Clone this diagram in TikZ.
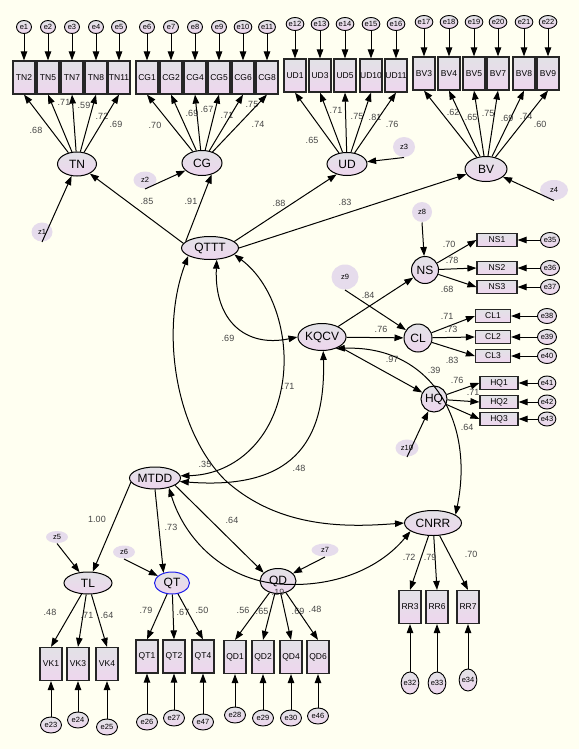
\documentclass[tikz,border=0pt]{standalone}
\usepackage{fontspec}
\setmainfont{Liberation Sans}
\usetikzlibrary{shapes.geometric,arrows.meta}

\definecolor{bgcol}{RGB}{255,255,241}
\definecolor{nodetop}{RGB}{226,226,230}
\definecolor{nodebot}{RGB}{238,214,238}
\definecolor{zcol}{RGB}{230,220,236}
\definecolor{wtcol}{RGB}{70,70,70}
\definecolor{qtblue}{RGB}{30,30,235}

\tikzset{
    lat/.style={ellipse, draw, line width=1pt, top color=nodetop, bottom color=nodebot,
        inner sep=0pt, font=\fontsize{12}{13}\selectfont},
    latc/.style={lat, circle},
    ind/.style={rectangle, draw=black!85, line width=1.2pt, top color=nodetop, bottom color=nodebot,
        minimum width=22pt, minimum height=33pt, inner sep=0pt, font=\fontsize{8.5}{9}\selectfont},
    indh/.style={ind, minimum height=13pt},
    err/.style={ellipse, draw, line width=0.9pt, top color=nodetop, bottom color=nodebot,
        minimum width=15pt, minimum height=13pt, inner sep=0pt, font=\fontsize{7.5}{8}\selectfont},
    errh/.style={err, minimum width=19pt, minimum height=15pt},
    errb/.style={err, minimum width=21pt, minimum height=16pt},
    errv/.style={err, minimum width=17pt, minimum height=22pt},
    dist/.style={ellipse, fill=zcol, inner sep=0pt, font=\fontsize{7.5}{8}\selectfont},
    wt/.style={inner sep=0pt, text=wtcol, font=\fontsize{9}{10}\selectfont},
}

\begin{document}
\begin{tikzpicture}[>={Triangle[length=9pt,width=6.5pt]}, x=1pt, y=-1pt, line width=1pt]
    \useasboundingbox (0,0) rectangle (579,749);
    \fill[bgcol] (0,0) rectangle (579,749);

    % Latent variables
    \node[lat, minimum width=39pt, minimum height=24pt] (TN) at (77,164) {TN};
    \node[lat, minimum width=40pt, minimum height=25pt] (CG) at (202,163) {CG};
    \node[lat, minimum width=40pt, minimum height=23pt] (UD) at (347,164) {UD};
    \node[lat, minimum width=42pt, minimum height=25pt] (BV) at (486,169) {BV};
    \node[lat, minimum width=57pt, minimum height=23pt] (QTTT) at (210,248) {QTTT};
    \node[lat, minimum width=42pt, minimum height=27pt] (KQCV) at (322,337) {KQCV};
    \node[latc, minimum size=27pt] (NS) at (425,270) {NS};
    \node[latc, minimum size=28pt] (CL) at (418,338) {CL};
    \node[latc, minimum size=26pt] (HQ) at (434,399) {HQ};
    \node[lat, minimum width=51pt, minimum height=22pt] (MTDD) at (155,478) {MTDD};
    \node[lat, minimum width=48pt, minimum height=22pt] (TL) at (88,583) {TL};
    \node[lat, draw=qtblue, minimum width=35pt, minimum height=22pt] (QT) at (172,583) {QT};
    \node[lat, minimum width=36pt, minimum height=25pt] (QD) at (278,581) {QD};
    \node[lat, minimum width=57pt, minimum height=25pt] (CNRR) at (433,523) {CNRR};

    % Disturbances
    \node[dist, minimum width=21pt, minimum height=19pt] (z1) at (42,232) {z1};
    \node[dist, minimum width=23pt, minimum height=17pt] (z2) at (145,180) {z2};
    \node[dist, minimum width=22pt, minimum height=20pt] (z3) at (404,147) {z3};
    \node[dist, minimum width=28pt, minimum height=20pt] (z4) at (554,190) {z4};
    \node[dist, minimum width=22pt, minimum height=12pt] (z5) at (57,537) {z5};
    \node[dist, minimum width=22pt, minimum height=13pt] (z6) at (124,552) {z6};
    \node[dist, minimum width=27pt, minimum height=13pt] (z7) at (325,550) {z7};
    \node[dist, minimum width=20pt, minimum height=20pt] (z8) at (422,212) {z8};
    \node[dist, minimum width=27pt, minimum height=25pt] (z9) at (345,277) {z9};
    \node[dist, minimum width=23pt, minimum height=17pt] (z10) at (407,448) {z10};
    \foreach \z/\f in {z1/TN, z2/CG, z3/UD, z4/BV, z5/TL, z6/QT, z7/QD, z8/NS, z9/CL, z10/HQ}
        \draw[->] (\z.south) -- (\f);

    % Top indicator blocks
    \foreach \ind/\x/\err/\w/\lx/\ly in {TN2/24/e1/.68/36/130, TN5/48/e2/.71/64/102,
        TN7/72/e3/.59/84/105, TN8/96/e4/.72/102/116, TN11/119/e5/.69/116/124} {
        \node[ind] (\ind) at (\x,77.5) {\ind};
        \node[err] (\err) at (\x,27) {\err};
        \draw[->] (\err) -- (\ind);
        \draw[->] (TN) -- (\ind.south);
        \node[wt] (w\ind) at (\lx,\ly) {\w};
    }
    \foreach \ind/\x/\err/\w/\lx/\ly in {CG1/147/e6/.70/155/125, CG2/171/e7/.69/192/113,
        CG4/195/e8/.67/207/109, CG5/219/e9/.71/227/115, CG6/243/e10/.75/252/104,
        CG8/267/e11/.74/258/124} {
        \node[ind] (\ind) at (\x,77.5) {\ind};
        \node[err] (\err) at (\x,27) {\err};
        \draw[->] (\err) -- (\ind);
        \draw[->] (CG) -- (\ind.south);
        \node[wt] (w\ind) at (\lx,\ly) {\w};
    }
    \foreach \ind/\x/\err/\w/\lx/\ly in {UD1/295/e12/.65/312/140, UD3/320/e13/.71/336/110,
        UD5/345/e14/.75/357/116, UD10/371/e15/.81/375/117, UD11/396/e16/.76/392/124} {
        \node[ind] (\ind) at (\x,75.5) {\ind};
        \node[err] (\err) at (\x,24) {\err};
        \draw[->] (\err) -- (\ind);
        \draw[->] (UD) -- (\ind.south);
        \node[wt] (w\ind) at (\lx,\ly) {\w};
    }
    \foreach \ind/\x/\err/\w/\lx/\ly in {BV3/424/e17/.62/453/112, BV4/449/e18/.65/471/117,
        BV5/474/e19/.75/488/113, BV7/498/e20/.69/507/118, BV8/524/e21/.74/526/116,
        BV9/548/e22/.60/540/124} {
        \node[ind] (\ind) at (\x,73.5) {\ind};
        \node[err] (\err) at (\x,22) {\err};
        \draw[->] (\err) -- (\ind);
        \draw[->] (BV) -- (\ind.south);
        \node[wt] (w\ind) at (\lx,\ly) {\w};
    }

    % Second order paths
    \draw[->] (QTTT.170) -- (TN);
    \draw[->] (QTTT.165) -- (CG.-50);
    \draw[->] (QTTT.15) -- (UD.-135);
    \draw[->] (QTTT.0) -- (BV.195);
    \node[wt] (wTN) at (147,201) {.85};
    \node[wt] (wCG) at (191,201) {.91};
    \node[wt] (wUD) at (279,203) {.88};
    \node[wt] (wBV) at (345,202) {.83};

    % Right indicator blocks
    \foreach \ind/\y/\err/\w/\lx/\ly in {NS1/240/e35/.70/449/244, NS2/268/e36/.78/452/260,
        NS3/287/e37/.68/447/289} {
        \node[indh, minimum width=40pt] (\ind) at (497,\y) {\ind};
        \node[errh] (\err) at (550,\y) {\err};
        \draw[->] (\err) -- (\ind);
        \draw[->] (NS) -- (\ind.west);
        \node[wt] (w\ind) at (\lx,\ly) {\w};
    }
    \foreach \ind/\y/\err/\w/\lx/\ly in {CL1/316/e38/.71/447/316, CL2/337/e39/.73/451/329,
        CL3/356/e40/.83/452/360} {
        \node[indh, minimum width=35pt] (\ind) at (493,\y) {\ind};
        \node[errh] (\err) at (547,\y) {\err};
        \draw[->] (\err) -- (\ind);
        \draw[->] (CL) -- (\ind.west);
        \node[wt] (w\ind) at (\lx,\ly) {\w};
    }
    \foreach \ind/\y/\err/\w/\lx/\ly in {HQ1/383/e41/.76/457/380, HQ2/402/e42/.71/473/392,
        HQ3/419/e43/.64/467/427} {
        \node[indh, minimum width=38pt] (\ind) at (499,\y) {\ind};
        \node[errh, minimum width=17pt, minimum height=14pt] (\err) at (547,\y) {\err};
        \draw[->] (\err) -- (\ind);
        \draw[->] (HQ) -- (\ind.west);
        \node[wt] (w\ind) at (\lx,\ly) {\w};
    }
    \draw[->] (KQCV) -- (NS);
    \draw[->] (KQCV) -- (CL);
    \draw[->] (KQCV) -- (HQ);
    \node[wt] (wNS) at (368,295) {.84};
    \node[wt] (wCL) at (381,329) {.76};
    \node[wt] (wHQ) at (392,359) {.97};

    % Lower block
    \draw[->] (MTDD.190) -- (TL);
    \draw[->] (MTDD.south) -- (QT.130);
    \draw[->] (MTDD.-20) -- (QD.150);
    \node[wt] (wTL) at (97,519) {1.00};
    \node[wt] (wQT) at (171,527) {.73};
    \node[wt] (wQD) at (232,520) {.64};
    \foreach \ind/\x/\err/\ey/\w/\lx/\ly in {VK1/51/e23/725/.48/50/612,
        VK3/78/e24/720/.71/87/615, VK4/107/e25/727/.64/107/615} {
        \node[ind] (\ind) at (\x,664) {\ind};
        \node[errb] (\err) at (\x,\ey) {\err};
        \draw[->] (\err) -- (\ind);
        \draw[->] (TL) -- (\ind.north);
        \node[wt] (w\ind) at (\lx,\ly) {\w};
    }
    \foreach \ind/\x/\err/\ey/\w/\lx/\ly in {QT1/147/e26/722/.79/146/610,
        QT2/174/e27/718/.67/183/612, QT4/203/e47/722/.50/202/610} {
        \node[ind] (\ind) at (\x,656.5) {\ind};
        \node[errb] (\err) at (\x,\ey) {\err};
        \draw[->] (\err) -- (\ind);
        \draw[->] (QT) -- (\ind.north);
        \node[wt] (w\ind) at (\lx,\ly) {\w};
    }
    \foreach \ind/\x/\err/\ey/\w/\lx/\ly in {QD1/235/e28/715/.56/243/610,
        QD2/263/e29/718/.65/262/611, QD4/291/e30/718/.69/298/611,
        QD6/318/e46/716/.48/315/609} {
        \node[ind] (\ind) at (\x,657) {\ind};
        \node[errb] (\err) at (\x,\ey) {\err};
        \draw[->] (\err) -- (\ind);
        \draw[->] (QD) -- (\ind.north);
        \node[wt] (w\ind) at (\lx,\ly) {\w};
    }
    \foreach \ind/\x/\err/\ey/\w/\lx/\ly in {RR3/410/e32/683/.72/409/557,
        RR6/437/e33/683/.79/430/557, RR7/468/e34/680/.70/471/554} {
        \node[ind] (\ind) at (\x,607) {\ind};
        \node[errv] (\err) at (\x,\ey) {\err};
        \draw[->] (\err) -- (\ind);
        \draw[->] (CNRR) -- (\ind.north);
        \node[wt] (w\ind) at (\lx,\ly) {\w};
    }

    % Covariances
    \draw[<->] (QTTT.-60) .. controls (214,320) and (245,348) .. (KQCV.west);
    \draw[<->] (QTTT.-15) .. controls (275,285) and (290,340) .. (282,385)
        .. controls (272,445) and (230,475) .. (MTDD.5);
    \draw[<->] (QTTT.-160) .. controls (160,330) and (175,430) .. (225,480)
        .. controls (280,530) and (350,527) .. (CNRR.west);
    \draw[<->] (KQCV.-85) .. controls (326,445) and (290,490) .. (MTDD.-8);
    \draw[<->] (KQCV.-40) .. controls (430,345) and (475,420) .. (CNRR.20);
    \draw[<->] (MTDD.-35) .. controls (185,540) and (225,580) .. (280,584)
        .. controls (335,588) and (380,568) .. (CNRR.-160);
    \node[wt] (c1) at (228,338) {.69};
    \node[wt] (c2) at (288,386) {.71};
    \node[wt] (c3) at (205,464) {.35};
    \node[wt] (c4) at (299,468) {.48};
    \node[wt] (c5) at (434,370) {.39};
    \node[wt] (c6) at (278,592) {.19};
\end{tikzpicture}
\end{document}
